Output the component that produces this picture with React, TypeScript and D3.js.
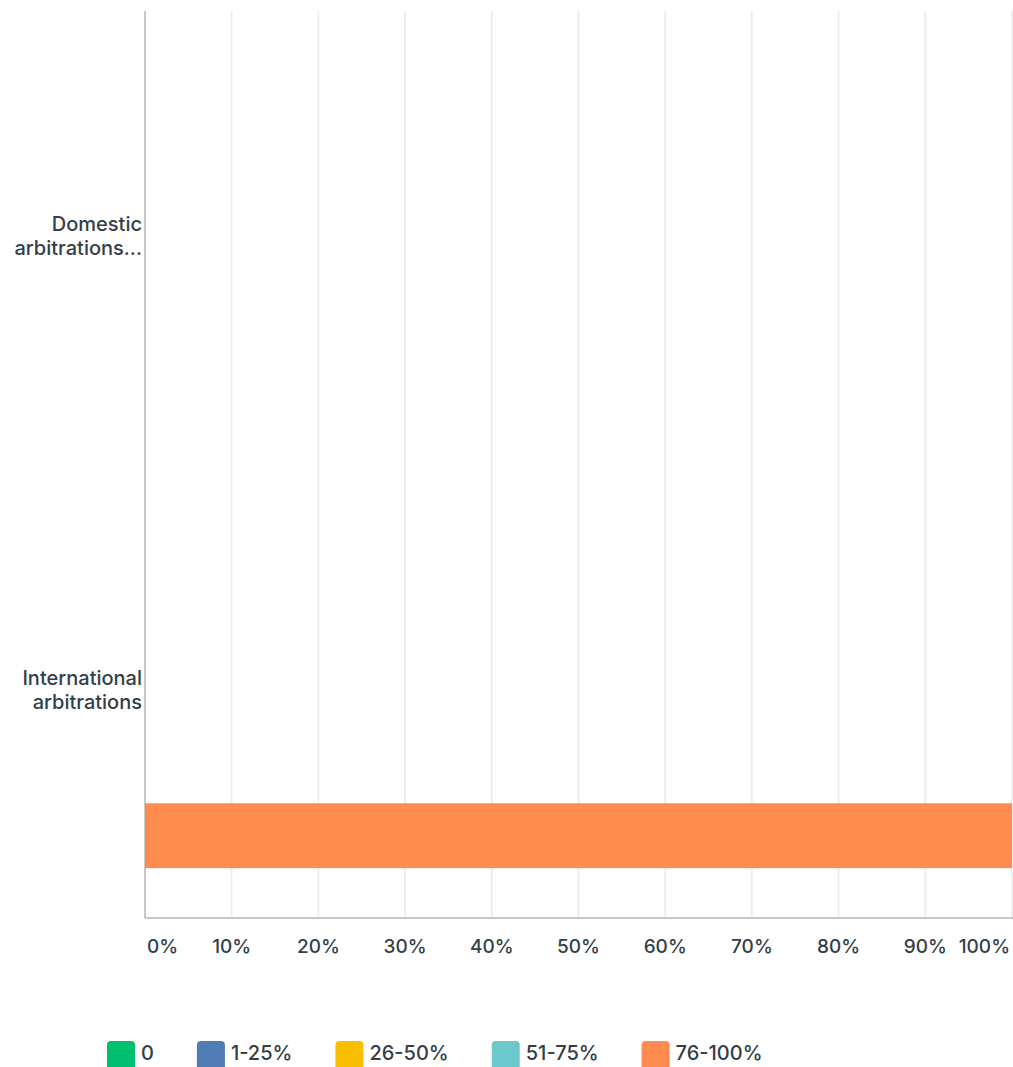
import { useEffect, useMemo } from "react";
import * as d3 from "d3";

const categories = ["Domestic arbitrations...", "International arbitrations"];
const categoryLines = [["Domestic", "arbitrations..."], ["International", "arbitrations"]];
const seriesNames = ["0", "1-25%", "26-50%", "51-75%", "76-100%"];
const seriesColors = ["#00BF6F", "#507CB6", "#F9BE00", "#6BC8CD", "#FF8B4F"];
// percent of responses per category, per series
const domesticValues = [0, 0, 0, 0, 0];
const internationalValues = [0, 0, 0, 0, 100];
const tickValues = [0, 10, 20, 30, 40, 50, 60, 70, 80, 90, 100];

const width = 1013;
const height = 1067;
const marginLeft = 145;
const marginRight = 1;
const plotTop = 11;
const plotBottom = 918;
const font = "Inter, 'Noto Sans', sans-serif";
const weight = 500;
const textColor = "#333E48";

function measure(text: string, size: number) {
  const c = document.createElement("canvas").getContext("2d");
  if (!c) return text.length * size * 0.6;
  c.font = `${weight} ${size}px Inter`;
  return c.measureText(text).width;
}

export default function App() {
  useEffect(() => {
    document.body.style.margin = "0";
  }, []);

  const x = d3.scaleLinear().domain([0, 100]).range([marginLeft, width - marginRight]);
  const y = d3.scaleBand().domain(categories).range([plotTop, plotBottom]);

  const rows = [domesticValues, internationalValues];

  const stacks = rows.map((vals) => {
    let acc = 0;
    return vals.map((v, i) => {
      const s = { x0: acc, x1: acc + v, color: seriesColors[i], v };
      acc += v;
      return s;
    });
  });

  const legend = useMemo(() => {
    let cx = 107;
    return seriesNames.map((name, i) => {
      const item = { x: cx, name, color: seriesColors[i] };
      cx += 28 + 6 + measure(name, 20) + 43;
      return item;
    });
  }, []);

  return (
    <svg width={width} height={height} style={{ display: "block" }} fontFamily={font}>
      {tickValues.map((t) => (
        <line
          key={t}
          x1={x(t)}
          x2={x(t)}
          y1={plotTop}
          y2={plotBottom}
          stroke={t === 0 ? "#C8C8C8" : "#E9E9E9"}
          strokeWidth={t === 0 ? 2 : 1.5}
        />
      ))}
      <line x1={marginLeft} x2={width} y1={plotBottom} y2={plotBottom} stroke="#C8C8C8" strokeWidth={2} />
      {categories.map((c, ci) => {
        const b = y(c) as number;
        const bw = y.bandwidth();
        return (
          <g key={c}>
            {stacks[ci]
              .filter((s) => s.v > 0)
              .map((s, si) => (
                <rect
                  key={si}
                  x={x(s.x0)}
                  width={x(s.x1) - x(s.x0)}
                  y={b + bw * 0.747}
                  height={bw * 0.143}
                  fill={s.color}
                />
              ))}
            <text
              textAnchor="end"
              fontSize={20}
              fontWeight={weight}
              fill={textColor}
              x={142}
              y={b + bw / 2}
            >
              {categoryLines[ci].map((l, li) => (
                <tspan key={li} x={142} dy={li === 0 ? -6.5 : 24}>
                  {l}
                </tspan>
              ))}
            </text>
          </g>
        );
      })}
      {tickValues.map((t, i) => (
        <text
          key={t}
          x={i === 0 ? x(t) + 2 : i === tickValues.length - 1 ? x(t) - 2 : x(t)}
          y={953}
          fontSize={19}
          fontWeight={weight}
          fill={textColor}
          textAnchor={i === 0 ? "start" : i === tickValues.length - 1 ? "end" : "middle"}
        >
          {t}%
        </text>
      ))}
      {legend.map((l) => (
        <g key={l.name} transform={`translate(${l.x},1041)`}>
          <rect width={28} height={30} rx={4} fill={l.color} />
          <text x={34} y={18.5} fontSize={20} fontWeight={weight} fill={textColor}>
            {l.name}
          </text>
        </g>
      ))}
    </svg>
  );
}
